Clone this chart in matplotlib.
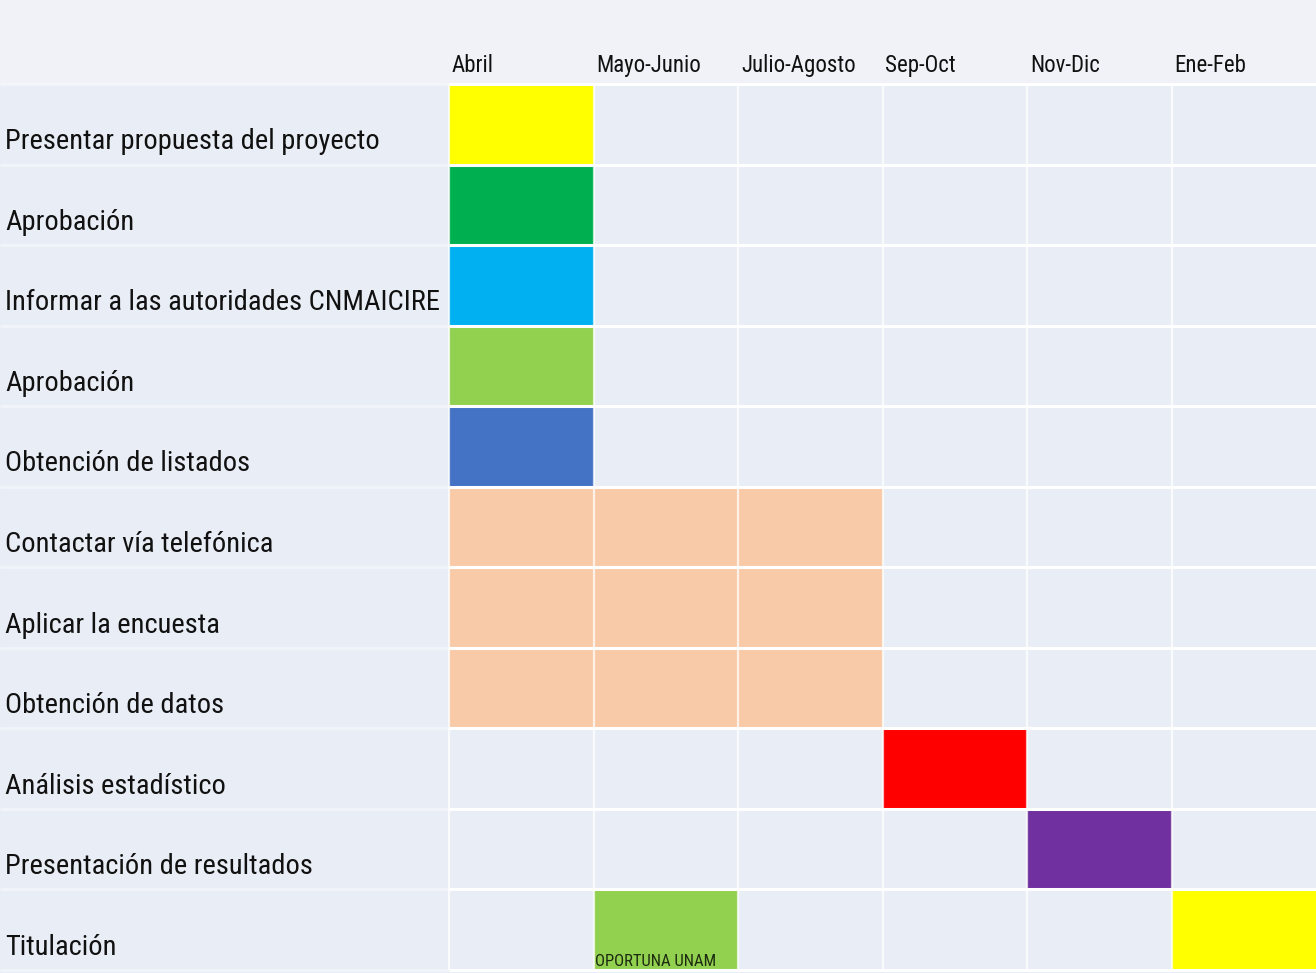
"""
Cronograma de actividades (Gantt en forma de tabla).

Output: out.png (1316x973)
"""
import matplotlib

matplotlib.use("Agg")
import matplotlib.pyplot as plt
from matplotlib import font_manager

PERIODS = ["Abril", "Mayo-Junio", "Julio-Agosto", "Sep-Oct", "Nov-Dic", "Ene-Feb"]
TASKS = [
    "Presentar propuesta del proyecto",
    "Aprobación",
    "Informar a las autoridades CNMAICIRE",
    "Aprobación",
    "Obtención de listados",
    "Contactar vía telefónica",
    "Aplicar la encuesta",
    "Obtención de datos",
    "Análisis estadístico",
    "Presentación de resultados",
    "Titulación",
]
# one entry per coloured block: task row, first period, number of periods
SEG_ROW = [0, 1, 2, 3, 4, 5, 6, 7, 8, 9, 10, 10]
SEG_START = [0, 0, 0, 0, 0, 0, 0, 0, 3, 4, 1, 5]
SEG_DUR = [1, 1, 1, 1, 1, 3, 3, 3, 1, 1, 1, 1]
SEG_COLOR = ["#ffff00", "#00b050", "#00b0f0", "#92d050", "#4472c4",
             "#f8caa8", "#f8caa8", "#f8caa8", "#ff0000", "#7030a0",
             "#92d050", "#ffff00"]
SEG_NOTE = {10: "OPORTUNA UNAM"}  # index into the segment lists

BG = "#e9edf5"
BG_TOP = "#f0f2f7"
TEXT = "#111111"

W, H = 1316, 973
COL_PX = (W - 449) / len(PERIODS)
LABEL_W = 449 / COL_PX  # label column, in period units


def pick_font():
    names = {f.name for f in font_manager.fontManager.ttflist}
    for cand in ("Liberation Sans Narrow", "Roboto Condensed", "Open Sans Condensed"):
        if cand in names:
            return cand, "normal", 1.0
    return "DejaVu Sans", "condensed", 0.85


def main() -> None:
    family, stretch, k = pick_font()
    plt.rcParams["font.family"] = [family, "DejaVu Sans"]

    fig = plt.figure(figsize=(W / 100, H / 100), dpi=100, facecolor=BG)
    fig.patches.append(plt.Rectangle((0, 1 - 84 / H), 1, 84 / H, transform=fig.transFigure,
                                     facecolor=BG_TOP, edgecolor="none", zorder=-5))
    ax = fig.add_axes([0, 3 / H, 1, (H - 84 - 3) / H])
    ax.set_zorder(1)
    ax.set_facecolor("none")
    ax.set_xlim(-LABEL_W, len(PERIODS))
    ax.set_ylim(len(TASKS) - 0.5, -0.5)
    ax.axis("off")

    ax.barh(SEG_ROW, SEG_DUR, left=SEG_START, height=1.0, color=SEG_COLOR,
            edgecolor="none", zorder=2)

    # white cell borders
    for r in range(len(TASKS) + 1):
        y = r - 0.5
        ax.plot([0, len(PERIODS)], [y, y], color="white", lw=2.2, zorder=3,
                solid_capstyle="butt", clip_on=False)
        ax.plot([-LABEL_W, 0], [y, y], color="white", lw=2.0, alpha=0.4, zorder=3,
                solid_capstyle="butt", clip_on=False)
    for c in range(len(PERIODS)):
        ax.plot([c, c], [-0.5, len(TASKS) - 0.5], color="white", lw=1.6, alpha=0.75,
                zorder=3, solid_capstyle="butt", clip_on=False)

    x_lab = -LABEL_W + 5 / COL_PX
    for i, task in enumerate(TASKS):
        ax.text(x_lab, i + 0.31, task, fontsize=20.5 * k, fontstretch=stretch,
                color=TEXT, ha="left", va="baseline", zorder=4)

    for j, per in enumerate(PERIODS):
        ax.text(j + 0.02, -0.65, per, fontsize=16.5 * k, fontstretch=stretch,
                color=TEXT, ha="left", va="baseline", zorder=4, clip_on=False)

    for idx, note in SEG_NOTE.items():
        ax.text(SEG_START[idx] + 0.01, SEG_ROW[idx] + 0.45, note, fontsize=12 * k,
                fontstretch=stretch, color="#1c2a10", ha="left", va="baseline", zorder=4)

    fig.savefig("out.png", dpi=100, facecolor=BG)
    plt.close(fig)


if __name__ == "__main__":
    main()
